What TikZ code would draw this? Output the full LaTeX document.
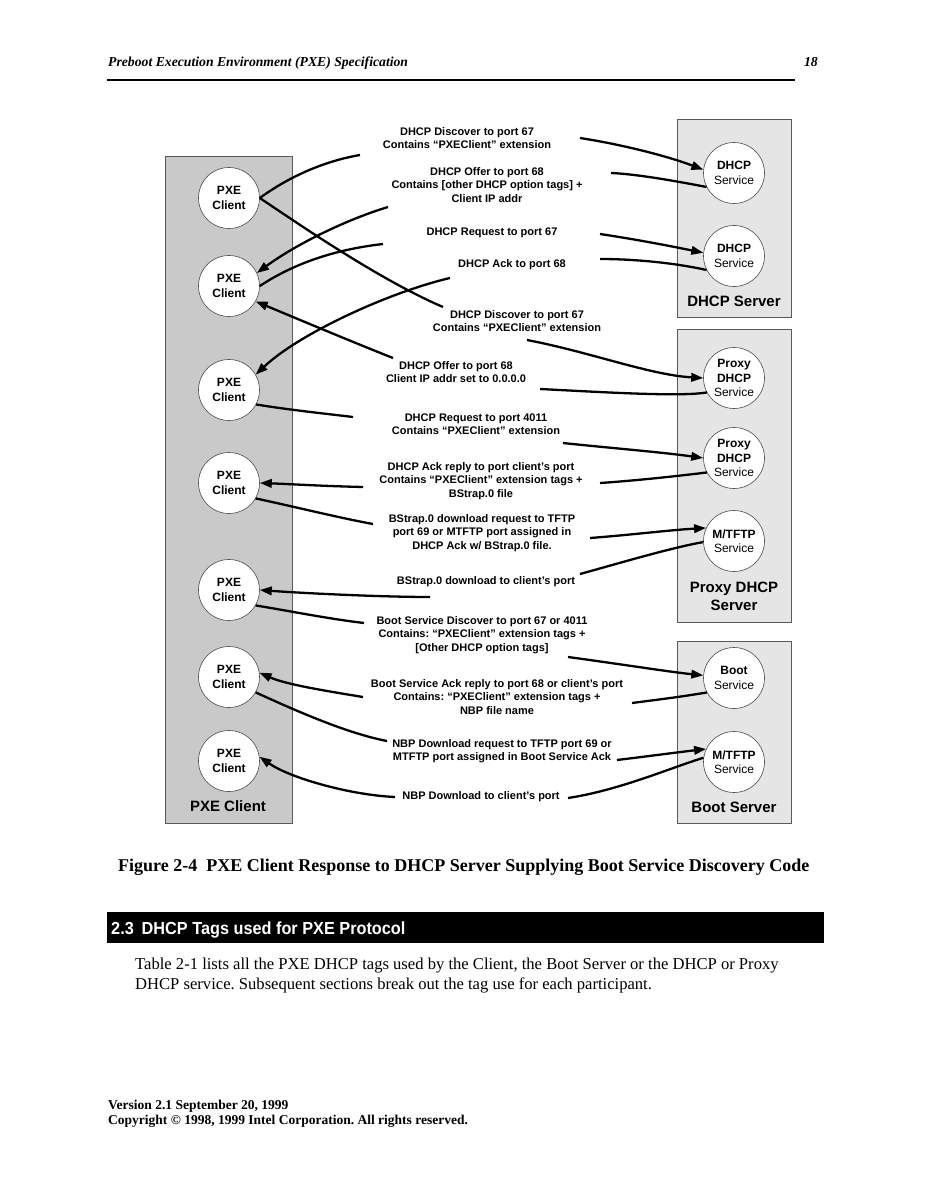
\documentclass[tikz,border=0pt]{standalone}
\usepackage{fontspec}
\setmainfont{Liberation Serif}
\newfontfamily\arial{Liberation Sans}
\newfontfamily\arialn[FakeStretch=0.93]{Liberation Sans}
\usetikzlibrary{arrows.meta}
\definecolor{clientgray}{gray}{0.79}
\definecolor{servergray}{gray}{0.90}
\frenchspacing
\begin{document}
\begin{tikzpicture}[x=1pt,y=-1pt,
  pxe/.style={circle, draw=black!70, line width=0.6pt, fill=white, minimum size=61pt, inner sep=0pt, align=center, font=\arial\bfseries\fontsize{12}{14.5}\selectfont},
  svc/.style={pxe, font=\arial\fontsize{12}{14.5}\selectfont},
  msg/.style={align=center, font=\arial\bfseries\fontsize{11}{13.3}\selectfont, inner sep=0pt},
  link/.style={line width=2.3pt},
  arr/.style={link, -{Triangle[length=12pt,width=8.5pt]}},
  grp/.style={draw=black!65, line width=0.6pt, anchor=north west, inner sep=0pt},
  grplbl/.style={align=center, font=\arial\bfseries\fontsize{15}{18}\selectfont, inner sep=0pt},
  serif/.style={anchor=base west, inner sep=0pt}
]
\useasboundingbox (0,0) rectangle (926,1198);
\fill[white] (0,0) rectangle (926,1198);

% header
\node[serif, font=\bfseries\itshape\fontsize{13.7}{16}\selectfont] (hdr) at (108,67) {Preboot Execution Environment (PXE) Specification};
\node[anchor=base east, inner sep=0pt, font=\bfseries\itshape\fontsize{13.7}{16}\selectfont] (pg) at (818,67) {18};
\draw[line width=1.3pt] (107,80) -- (795,80);

% group boxes
\node[grp, fill=clientgray, minimum width=127pt, minimum height=667pt] (clientbox) at (165,156) {};
\node[grp, fill=servergray, minimum width=114pt, minimum height=198pt] (dhcpbox) at (677,119) {};
\node[grp, fill=servergray, minimum width=114pt, minimum height=293pt] (proxybox) at (677,329) {};
\node[grp, fill=servergray, minimum width=114pt, minimum height=182pt] (bootbox) at (677,641) {};

\node[grplbl] (lclient) at (228,806) {PXE Client};
\node[grplbl] (ldhcp) at (734,301) {DHCP Server};
\node[grplbl] (lproxy) at (734,596) {Proxy DHCP\\Server};
\node[grplbl] (lboot) at (734,807) {Boot Server};

% client circles
\node[pxe] (p1) at (229,198) {PXE\\Client};
\node[pxe] (p2) at (229,286) {PXE\\Client};
\node[pxe] (p3) at (229,390) {PXE\\Client};
\node[pxe] (p4) at (229,483) {PXE\\Client};
\node[pxe] (p5) at (229,590) {PXE\\Client};
\node[pxe] (p6) at (229,677) {PXE\\Client};
\node[pxe] (p7) at (229,761) {PXE\\Client};

% service circles
\node[svc] (d1) at (734,173) {\textbf{DHCP}\\Service};
\node[svc] (d2) at (734,256) {\textbf{DHCP}\\Service};
\node[svc] (x1) at (734,378) {\textbf{Proxy}\\\textbf{DHCP}\\Service};
\node[svc] (x2) at (734,458) {\textbf{Proxy}\\\textbf{DHCP}\\Service};
\node[svc] (m1) at (734,541) {\textbf{M/TFTP}\\Service};
\node[svc] (b1) at (734,678) {\textbf{Boot}\\Service};
\node[svc] (m2) at (734,762) {\textbf{M/TFTP}\\Service};

% message texts
\node[msg] (t1) at (467,138) {DHCP Discover to port 67\\Contains “PXEClient” extension};
\node[msg] (t2) at (487,185) {DHCP Offer to port 68\\Contains [other DHCP option tags] +\\Client IP addr};
\node[msg] (t3) at (492,233) {DHCP Request to port 67};
\node[msg] (t4) at (512,265) {DHCP Ack to port 68};
\node[msg] (t5) at (517,321) {DHCP Discover to port 67\\Contains “PXEClient” extension};
\node[msg] (t6) at (456,372) {DHCP Offer to port 68\\Client IP addr set to 0.0.0.0};
\node[msg] (t7) at (476,424) {DHCP Request to port 4011\\Contains “PXEClient” extension};
\node[msg] (t8) at (481,481) {DHCP Ack reply to port client’s port\\Contains “PXEClient” extension tags +\\BStrap.0 file};
\node[msg] (t9) at (482,533) {BStrap.0 download request to TFTP\\port 69 or MTFTP port assigned in\\DHCP Ack w/ BStrap.0 file.};
\node[msg] (t10) at (486,582) {BStrap.0 download to client’s port};
\node[msg] (t11) at (482,635) {Boot Service Discover to port 67 or 4011\\Contains: “PXEClient” extension tags +\\{[}Other DHCP option tags{]}};
\node[msg] (t12) at (497,697) {Boot Service Ack reply to port 68 or client’s port\\Contains: “PXEClient” extension tags +\\NBP file name};
\node[msg] (t13) at (502,751) {NBP Download request to TFTP port 69 or\\MTFTP port assigned in Boot Service Ack};
\node[msg] (t14) at (481,797) {NBP Download to client’s port};

% free ends of connectors
\coordinate (c1a) at (360,155);  \coordinate (c1b) at (580,138);
\coordinate (c2a) at (611,173);  \coordinate (c2b) at (388,207);
\coordinate (c3a) at (383,244);  \coordinate (c3b) at (600,234);
\coordinate (c4a) at (600,259);  \coordinate (c4b) at (450,278);
\coordinate (c5a) at (443,307);  \coordinate (c5b) at (527,340);
\coordinate (c6a) at (540,389);  \coordinate (c6b) at (393,358);
\coordinate (c7a) at (353,417);  \coordinate (c7b) at (563,443);
\coordinate (c8a) at (600,483);  \coordinate (c8b) at (363,487);
\coordinate (c9a) at (373,524);  \coordinate (c9b) at (590,538);
\coordinate (c10a) at (580,574); \coordinate (c10b) at (430,597);
\coordinate (c11a) at (364,623); \coordinate (c11b) at (568,657);
\coordinate (c12a) at (632,703); \coordinate (c12b) at (363,697);
\coordinate (c13a) at (387,741); \coordinate (c13b) at (617,760);
\coordinate (c14a) at (568,798); \coordinate (c14b) at (395,797);

% connectors
\draw[link] (p1.east) .. controls (290,176) and (325,161) .. (c1a);
\draw[arr] (c1b) .. controls (625,145) and (670,157) .. (d1.174);
\draw[link] (d1.207) .. controls (670,180) and (635,174) .. (c2a);
\draw[arr] (c2b) .. controls (345,220) and (295,245) .. (p2.25);
\draw[link] (p2.east) .. controls (290,266) and (330,250) .. (c3a);
\draw[arr] (c3b) .. controls (640,240) and (675,247) .. (d2.174);
\draw[link] (d2.207) .. controls (670,262) and (630,259) .. (c4a);
\draw[arr] (c4b) .. controls (390,292) and (300,333) .. (p3.30);
\draw[link] (p1.east) .. controls (300,225) and (380,280) .. (c5a);
\draw[arr] (c5b) .. controls (590,352) and (650,375) .. (x1.west);
\draw[link] (x1.208) .. controls (680,397) and (600,392) .. (c6a);
\draw[arr] (c6b) .. controls (360,345) and (300,320) .. (p2.-30);
\draw[link] (p3.-28) .. controls (290,410) and (320,413) .. (c7a);
\draw[arr] (c7b) .. controls (610,448) and (660,452) .. (x2.west);
\draw[link] (x2.208) .. controls (670,477) and (630,481) .. (c8a);
\draw[arr] (c8b) .. controls (320,486) and (290,484) .. (p4.east);
\draw[link] (p4.-30) .. controls (300,508) and (340,518) .. (c9a);
\draw[arr] (c9b) .. controls (630,535) and (670,530) .. (m1.155);
\draw[link] (m1.182) .. controls (670,548) and (620,563) .. (c10a);
\draw[arr] (c10b) .. controls (380,597) and (300,593) .. (p5.east);
\draw[link] (p5.-30) .. controls (295,612) and (330,619) .. (c11a);
\draw[arr] (c11b) .. controls (620,664) and (670,672) .. (b1.175);
\draw[link] (b1.208) .. controls (680,697) and (655,700) .. (c12a);
\draw[arr] (c12b) .. controls (320,690) and (285,684) .. (p6.8);
\draw[link] (p6.-30) .. controls (290,708) and (345,733) .. (c13a);
\draw[arr] (c13b) .. controls (650,756) and (680,752) .. (m2.155);
\draw[link] (m2.172) .. controls (670,768) and (620,790) .. (c14a);
\draw[arr] (c14b) .. controls (350,795) and (290,778) .. (p7.8);

% caption
\node[serif, font=\bfseries\fontsize{18}{21}\selectfont] (cap) at (118,871) {Figure 2-4\hspace{0.5em}PXE Client Response to DHCP Server Supplying Boot Service Discovery Code};

% section band
\fill[black] (107,912) rectangle (824,943);
\node[serif, text=white, font=\arialn\bfseries\fontsize{17.5}{20}\selectfont] (sec) at (111,934) {2.3\hspace{0.45em}DHCP Tags used for PXE Protocol};

% body
\node[serif, font=\fontsize{16.6}{20}\selectfont] (body1) at (135,969) {Table 2-1 lists all the PXE DHCP tags used by the Client, the Boot Server or the DHCP or Proxy};
\node[serif, font=\fontsize{16.6}{20}\selectfont] (body2) at (135,989) {DHCP service. Subsequent sections break out the tag use for each participant.};

% footer
\node[serif, font=\bfseries\fontsize{13.5}{15}\selectfont] (foot1) at (108,1109) {Version 2.1 September 20, 1999};
\node[serif, font=\bfseries\fontsize{13.5}{15}\selectfont] (foot2) at (108,1124) {Copyright © 1998, 1999 Intel Corporation. All rights reserved.};
\end{tikzpicture}
\end{document}
